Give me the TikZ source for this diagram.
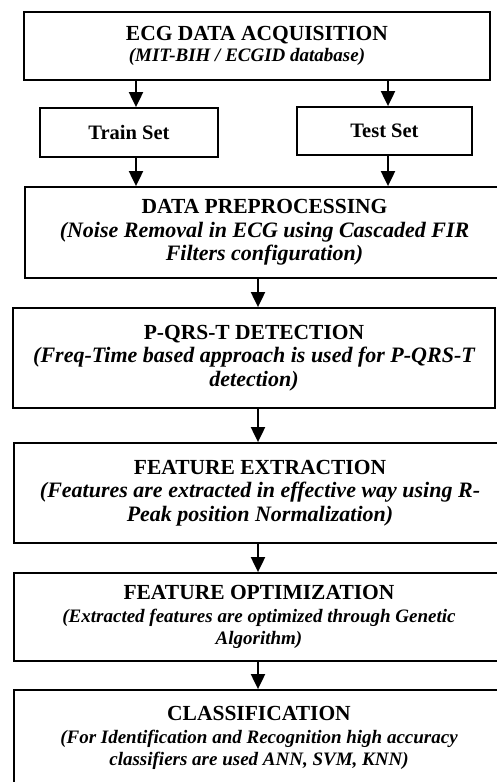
\documentclass[tikz,border=0pt]{standalone}
\usepackage{fontspec}
\setmainfont{Liberation Serif}
\usetikzlibrary{arrows.meta}
\begin{document}
\begin{tikzpicture}[x=1pt,y=-1pt,
  stage/.style={draw, line width=1.8pt, align=center, inner sep=0pt,
    font=\fontsize{21.5}{23.5}\selectfont\bfseries},
  setbox/.style={stage, font=\fontsize{20.5}{23}\selectfont\bfseries},
  flow/.style={line width=2pt, -{Triangle[width=14pt,length=15pt]}}]
\fill[white] (0,0) rectangle (497,782);
\useasboundingbox (0,0) rectangle (497,782);
\clip (0,0) rectangle (497,782);

% columns used by the connectors
\coordinate (xl) at (136,0);
\coordinate (xr) at (388,0);
\coordinate (xm) at (258,0);

% stages
\node[stage, minimum width=466pt, minimum height=68pt] (acq) at (257,46)
  {ECG DATA ACQUISITION\\[-2pt]{\fontsize{19}{21}\selectfont\itshape (MIT-BIH / ECGID database)\hspace*{20pt}}};
\node[setbox, minimum width=178pt, minimum height=49pt] (train) at (129,132.5) {Train Set};
\node[setbox, minimum width=175pt, minimum height=48pt] (test) at (384.5,131) {Test Set};
\node[stage, minimum width=479pt, minimum height=91pt] (dp) at (264.5,232.5)
  {DATA PREPROCESSING\\{\fontsize{22}{23.5}\selectfont\itshape (Noise Removal in ECG using Cascaded FIR}\\{\fontsize{22}{23.5}\selectfont\itshape Filters configuration)}};
\node[stage, minimum width=482pt, minimum height=100pt] (pq) at (254,358)
  {P-QRS-T DETECTION\\{\fontsize{22}{23.5}\selectfont\itshape (Freq-Time based approach is used for P-QRS-T}\\{\fontsize{22}{23.5}\selectfont\itshape detection)}};
\node[stage, minimum width=492pt, minimum height=100pt] (fe) at (260,493)
  {FEATURE EXTRACTION\\{\fontsize{22}{23.5}\selectfont\itshape (Features are extracted in effective way using R-}\\{\fontsize{22}{23.5}\selectfont\itshape Peak position Normalization)}};
\node[stage, minimum width=490pt, minimum height=88pt] (fo) at (259,617)
  {FEATURE OPTIMIZATION\\[-1pt]{\fontsize{19}{21}\selectfont\itshape (Extracted features are optimized through Genetic}\\[-1pt]{\fontsize{19}{21}\selectfont\itshape Algorithm)}};
\node[stage, minimum width=490pt, minimum height=96pt] (cl) at (259,738)
  {CLASSIFICATION\\[-1pt]{\fontsize{19}{21}\selectfont\itshape (For Identification and Recognition high accuracy}\\[-1pt]{\fontsize{19}{21}\selectfont\itshape classifiers are used ANN, SVM, KNN)}};

% connectors
\draw[flow] (acq.south -| xl) -- (train.north -| xl);
\draw[flow] (acq.south -| xr) -- (test.north -| xr);
\draw[flow] (train.south -| xl) -- (dp.north -| xl);
\draw[flow] (test.south -| xr) -- (dp.north -| xr);
\draw[flow] (dp.south -| xm) -- (pq.north -| xm);
\draw[flow] (pq.south -| xm) -- (fe.north -| xm);
\draw[flow] (fe.south -| xm) -- (fo.north -| xm);
\draw[flow] (fo.south -| xm) -- (cl.north -| xm);
\end{tikzpicture}
\end{document}
